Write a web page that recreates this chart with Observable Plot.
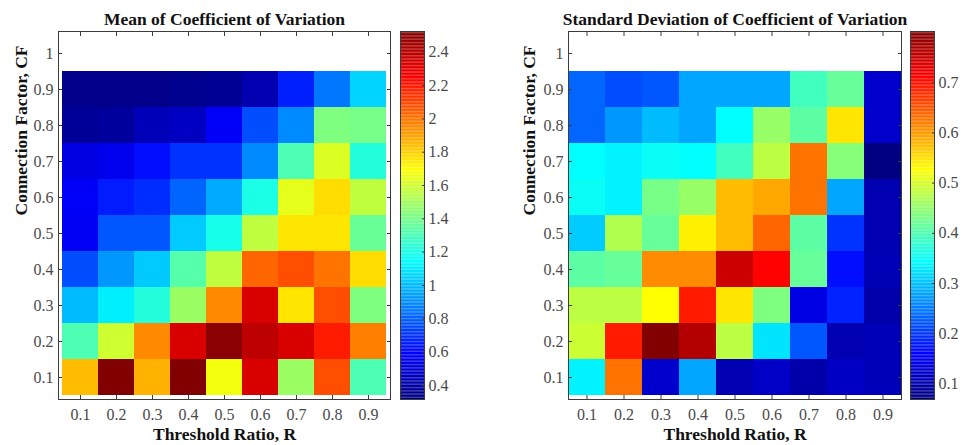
<!DOCTYPE html>
<html>
<head>
<meta charset="utf-8">
<script src="https://cdn.jsdelivr.net/npm/d3@7"></script>
<script src="https://cdn.jsdelivr.net/npm/@observablehq/plot@0.6"></script>
<style>
  html, body { margin: 0; padding: 0; background: #fff; }
  body { width: 961px; height: 445px; overflow: hidden; position: relative; }
  .abs { position: absolute; top: 0; }
</style>
</head>
<body>
<div id="p1" class="abs" style="left:0px"></div>
<div id="c1" class="abs" style="left:400px"></div>
<div id="p2" class="abs" style="left:480px"></div>
<div id="c2" class="abs" style="left:910px"></div>
<script>
// Threshold ratio R (columns) and connection factor CF (rows, top to bottom)
const rValues = [0.1, 0.2, 0.3, 0.4, 0.5, 0.6, 0.7, 0.8, 0.9];
const cfValues = [0.9, 0.8, 0.7, 0.6, 0.5, 0.4, 0.3, 0.2, 0.1];
const cfTicks = [1, 0.9, 0.8, 0.7, 0.6, 0.5, 0.4, 0.3, 0.2, 0.1];

// Mean of coefficient of variation (rows CF 0.9 -> 0.1, columns R 0.1 -> 0.9)
const meanCV = [
  [0.34, 0.34, 0.34, 0.35, 0.36, 0.42, 0.66, 0.85, 1.05],
  [0.37, 0.38, 0.44, 0.46, 0.58, 0.76, 0.89, 1.42, 1.40],
  [0.53, 0.55, 0.62, 0.70, 0.70, 0.89, 1.31, 1.62, 1.22],
  [0.58, 0.65, 0.69, 0.81, 0.96, 1.20, 1.64, 1.77, 1.56],
  [0.57, 0.78, 0.78, 1.03, 1.19, 1.56, 1.75, 1.75, 1.37],
  [0.76, 0.92, 1.03, 1.33, 1.56, 2.03, 2.08, 2.00, 1.77],
  [1.00, 1.11, 1.22, 1.48, 1.95, 2.33, 1.75, 2.08, 1.42],
  [1.31, 1.59, 1.95, 2.33, 2.50, 2.39, 2.33, 2.19, 1.97],
  [1.84, 2.52, 1.86, 2.52, 1.67, 2.33, 1.48, 2.08, 1.31]
];

// Standard deviation of coefficient of variation
const sdCV = [
  [0.234, 0.216, 0.223, 0.280, 0.280, 0.280, 0.390, 0.417, 0.124],
  [0.234, 0.270, 0.296, 0.280, 0.344, 0.454, 0.410, 0.545, 0.124],
  [0.344, 0.335, 0.350, 0.344, 0.390, 0.480, 0.627, 0.440, 0.070],
  [0.350, 0.335, 0.430, 0.454, 0.575, 0.590, 0.627, 0.280, 0.104],
  [0.307, 0.470, 0.417, 0.537, 0.575, 0.637, 0.410, 0.197, 0.106],
  [0.410, 0.417, 0.610, 0.610, 0.747, 0.710, 0.417, 0.170, 0.108],
  [0.480, 0.480, 0.527, 0.692, 0.545, 0.435, 0.142, 0.186, 0.100],
  [0.490, 0.692, 0.800, 0.765, 0.480, 0.325, 0.223, 0.105, 0.110],
  [0.335, 0.627, 0.124, 0.280, 0.105, 0.120, 0.100, 0.118, 0.110]
];

const meanDomain = [0.316, 2.524];
const sdDomain = [0.069, 0.802];
const meanTicks = [0.4, 0.6, 0.8, 1, 1.2, 1.4, 1.6, 1.8, 2, 2.2, 2.4];
const sdTicks = [0.1, 0.2, 0.3, 0.4, 0.5, 0.6, 0.7];

const titles = ["Mean of Coefficient of Variation", "Standard Deviation of Coefficient of Variation"];
const xLabel = "Threshold Ratio, R";
const yLabel = "Connection Factor, CF";

// MATLAB "jet" colormap
function jet(t) {
  const c = v => Math.max(0, Math.min(1, v));
  const r = c(1.5 - Math.abs(4 * t - 3));
  const g = c(1.5 - Math.abs(4 * t - 2));
  const b = c(1.5 - Math.abs(4 * t - 1));
  return `rgb(${Math.round(r * 255)},${Math.round(g * 255)},${Math.round(b * 255)})`;
}

const fontFamily = '"Liberation Serif", "Times New Roman", serif';
const baseStyle = {fontFamily, fontSize: "16px", color: "#4a4a4a", background: "transparent", overflow: "visible"};
const fmt = d3.format("~g");
const lineColor = "#3c3c3c";

function panel({rows, domain, title, width, marginLeft, marginRight, yLabelDx}) {
  const cells = cfValues.flatMap((cf, i) => rValues.map((r, j) => ({r, cf, v: rows[i][j]})));
  return Plot.plot({
    width, height: 445,
    marginTop: 31, marginBottom: 46, marginLeft, marginRight,
    style: baseStyle,
    x: {type: "band", domain: rValues, padding: 0, label: null},
    y: {type: "band", domain: cfTicks, padding: 0, label: null},
    color: {type: "linear", domain, interpolate: jet, clamp: true},
    marks: [
      Plot.cell(cells, {x: "r", y: "cf", fill: "v", inset: 0, shapeRendering: "crispEdges"}),
      Plot.frame({stroke: lineColor}),
      Plot.axisX({anchor: "bottom", tickSize: -4, tickFormat: () => "", label: null, stroke: lineColor}),
      Plot.axisX({anchor: "top", tickSize: -4, tickFormat: () => "", label: null, stroke: lineColor}),
      Plot.axisY({anchor: "left", tickSize: -4, tickFormat: () => "", label: null, stroke: lineColor}),
      Plot.axisY({anchor: "right", tickSize: -4, tickFormat: () => "", label: null, stroke: lineColor}),
      Plot.axisX({anchor: "bottom", tickSize: 0, tickPadding: 9, tickFormat: fmt, label: null}),
      Plot.axisY({anchor: "left", tickSize: 0, tickPadding: 5, tickFormat: fmt, label: null}),
      Plot.text([title], {text: d => d, frameAnchor: "top", lineAnchor: "bottom", dy: -7,
        fontSize: 17.5, fontWeight: "bold", fill: "#111"}),
      Plot.text([xLabel], {text: d => d, frameAnchor: "bottom", lineAnchor: "bottom", dy: 40,
        fontSize: 17.5, fontWeight: "bold", fill: "#111"}),
      Plot.text([yLabel], {text: d => d, frameAnchor: "left", rotate: -90, dx: yLabelDx,
        fontSize: 17.5, fontWeight: "bold", fill: "#111"})
    ]
  });
}

function colorbar({domain, ticks, width}) {
  const n = 256;
  const step = (domain[1] - domain[0]) / n;
  const steps = d3.range(n).map(i => domain[0] + i * step);
  return Plot.plot({
    width, height: 445,
    marginTop: 31, marginBottom: 46, marginLeft: 0, marginRight: width - 24,
    style: baseStyle,
    x: {domain: [0, 1], axis: null},
    y: {domain, label: null},
    color: {type: "linear", domain, interpolate: jet, clamp: true},
    marks: [
      Plot.rect(steps, {x1: 0, x2: 1, y1: d => d, y2: d => d + step * 1.02, fill: d => d + step / 2}),
      Plot.frame({stroke: lineColor}),
      Plot.axisY({anchor: "right", ticks, tickSize: -3, tickFormat: () => "", label: null, stroke: lineColor}),
      Plot.axisY({anchor: "right", ticks, tickSize: 0, tickPadding: 4, tickFormat: fmt, label: null})
    ]
  });
}

document.getElementById("p1").append(panel({rows: meanCV, domain: meanDomain, title: titles[0],
  width: 400, marginLeft: 58, marginRight: 10, yLabelDx: -37}));
document.getElementById("c1").append(colorbar({domain: meanDomain, ticks: meanTicks, width: 61}));
document.getElementById("p2").append(panel({rows: sdCV, domain: sdDomain, title: titles[1],
  width: 430, marginLeft: 88, marginRight: 9, yLabelDx: -39}));
document.getElementById("c2").append(colorbar({domain: sdDomain, ticks: sdTicks, width: 51}));
</script>
</body>
</html>
